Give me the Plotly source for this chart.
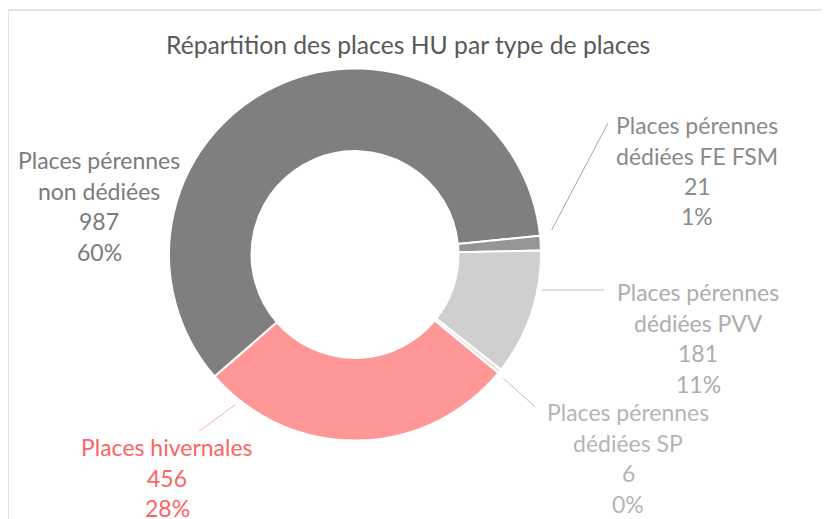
import plotly.graph_objects as go

# ── Données ──────────────────────────────────────────────────────────────────
CATEGORIES = [
    "Places pérennes\nnon dédiées",
    "Places pérennes\ndédiées FE FSM",
    "Places pérennes\ndédiées PVV",
    "Places pérennes\ndédiées SP",
    "Places hivernales",
]
VALEURS = [987, 21, 181, 6, 456]

COULEURS = ["#7f7f7f", "#959595", "#d0cece", "#e4e4e4", "#ff9797"]
COULEURS_TEXTE = ["#7b7b7b", "#8a8a8a", "#adadad", "#b5b5b5", "#ff6464"]
COULEURS_TRAIT = ["#7f7f7f", "#a6a6a6", "#bfbfbf", "#bfbfbf", "#ffb0b0"]

W, H = 829, 519
OFFSET = 8  # marge par défaut du <body> dans la page
FONT = "Lato, 'Open Sans', sans-serif"

# position (centre x, centre y de la 1re ligne) de chaque bloc d'étiquette, en px
POS_ETIQ = [(99, 160), (697, 125), (698, 292), (628, 412), (167, 447)]
# traits de rappel (x0, y0, x1, y1) en px, None = pas de trait
TRAITS = [None, (551.7, 230, 608, 123), (541.7, 290, 604, 290),
          (503.3, 378.3, 535, 406.7), (235, 405, 199.3, 431)]
INTERLIGNE = 30.5

FW, FH = W - OFFSET, H - OFFSET


def px_x(v):
    return (v - OFFSET) / FW


def px_y(v):
    return 1 - (v - OFFSET) / FH


total = sum(VALEURS)

fig = go.Figure(go.Pie(
    labels=[c.replace("\n", " ") for c in CATEGORIES],
    values=VALEURS,
    hole=0.556,
    sort=False,
    direction="clockwise",
    rotation=229,
    marker=dict(colors=COULEURS, line=dict(color="white", width=2)),
    textinfo="none",
    showlegend=False,
    domain=dict(x=[px_x(355 - 186), px_x(355 + 186)],
                y=[px_y(254.5 + 186), px_y(254.5 - 186)]),
))

# ── Étiquettes de données ────────────────────────────────────────────────────
annotations = [dict(
    text="Répartition des places HU par type de places",
    xref="paper", yref="paper", x=px_x(408), y=px_y(44),
    xanchor="center", yanchor="middle", showarrow=False,
    font=dict(family=FONT, size=24.7, color="#595959"),
)]
shapes = []
for cat, val, coul, (cx, cy) in zip(CATEGORIES, VALEURS, COULEURS_TEXTE, POS_ETIQ):
    lignes = cat.split("\n") + [str(val), f"{round(val / total * 100)}%"]
    for i, ligne in enumerate(lignes):
        annotations.append(dict(
            text=ligne, xref="paper", yref="paper",
            x=px_x(cx), y=px_y(cy + i * INTERLIGNE),
            xanchor="center", yanchor="middle", showarrow=False,
            font=dict(family=FONT, size=23, color=coul),
        ))

for trait, coul in zip(TRAITS, COULEURS_TRAIT):
    if trait is None:
        continue
    x0, y0, x1, y1 = trait
    shapes.append(dict(type="line", xref="paper", yref="paper",
                       x0=px_x(x0), y0=px_y(y0), x1=px_x(x1), y1=px_y(y1),
                       line=dict(color=coul, width=1)))

# cadre du graphique
shapes.append(dict(type="rect", xref="paper", yref="paper",
                   x0=px_x(8), y0=px_y(H + 20), x1=px_x(W + 20), y1=px_y(10),
                   line=dict(color="#d9d9d9", width=1.5)))

fig.update_layout(
    width=FW, height=FH,
    margin=dict(l=0, r=0, t=0, b=0),
    paper_bgcolor="white",
    plot_bgcolor="white",
    annotations=annotations,
    shapes=shapes,
    font_family=FONT,
)

fig.write_html("out.html")
